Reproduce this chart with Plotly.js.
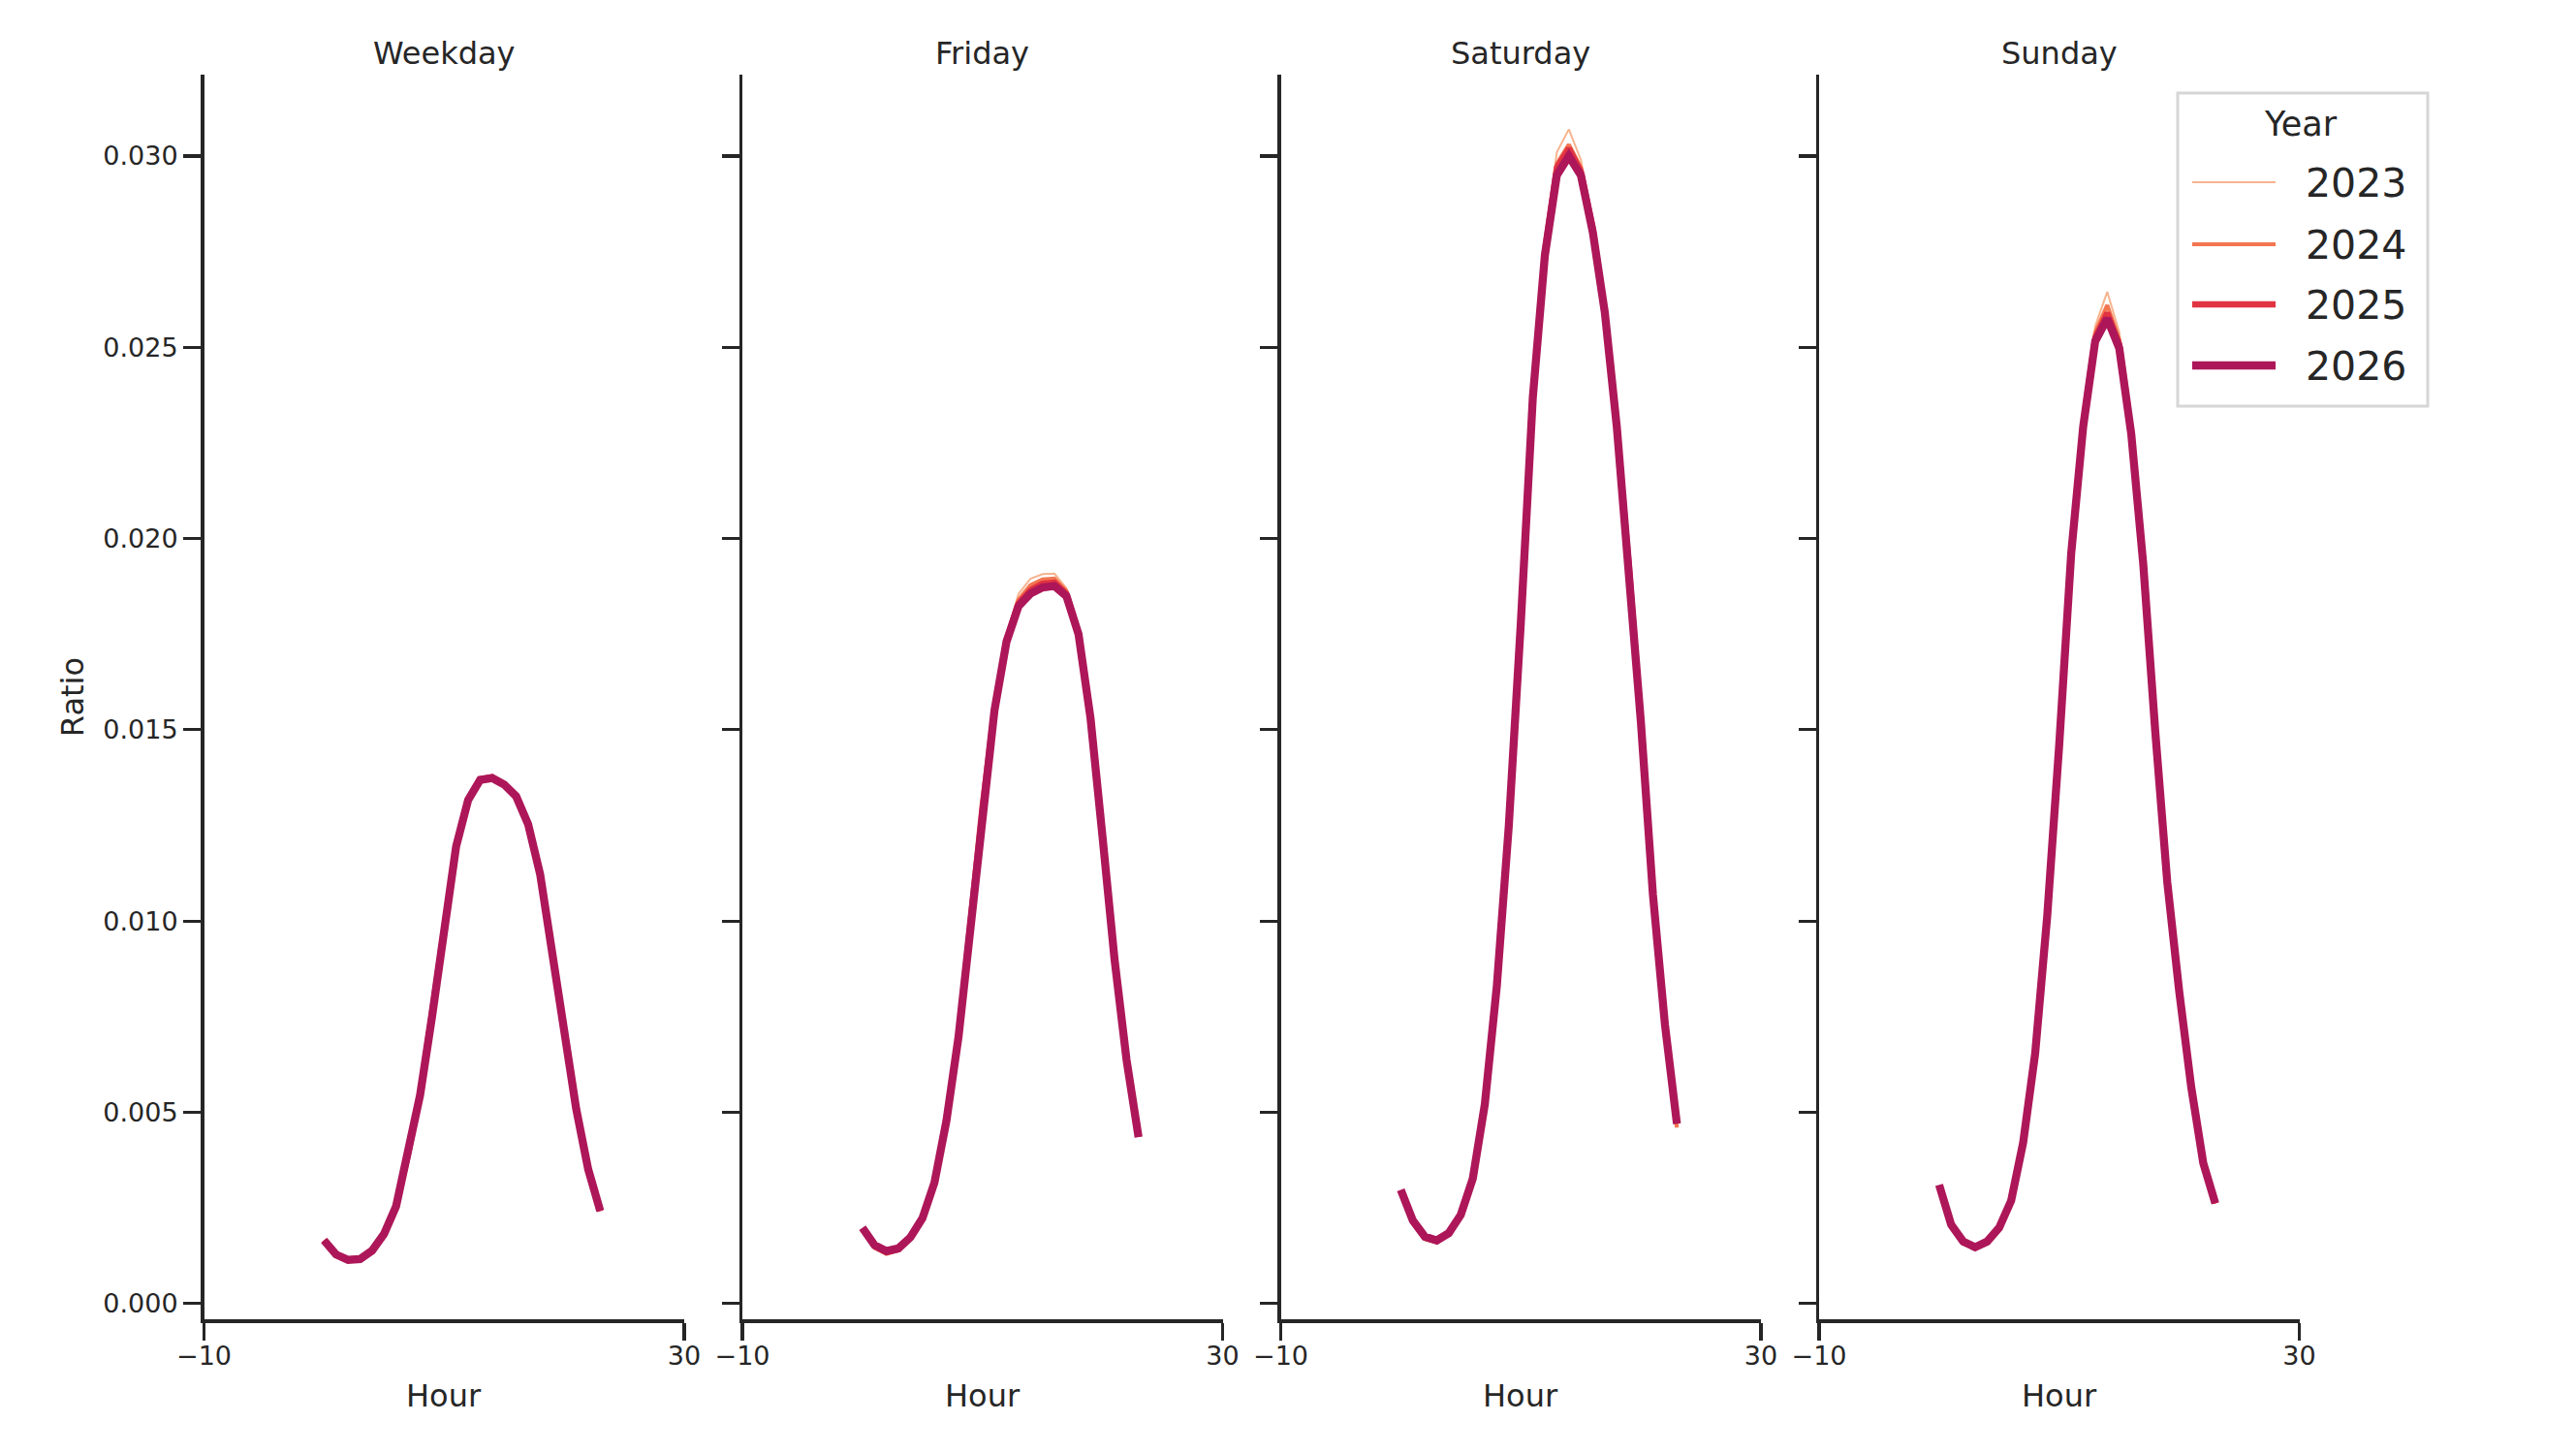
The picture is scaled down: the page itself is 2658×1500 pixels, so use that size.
<!DOCTYPE html>
<html>
<head>
<meta charset="utf-8">
<script src="https://cdn.plot.ly/plotly-3.0.1.min.js"></script>
<style>
  html, body { margin: 0; padding: 0; background: #ffffff; }
  #chart { width: 2658px; height: 1500px; }
</style>
</head>
<body>
<div id="chart"></div>
<script>
// ---------------- DATA ----------------
const hours = [0,1,2,3,4,5,6,7,8,9,10,11,12,13,14,15,16,17,18,19,20,21,22,23];
const panels = ["Weekday", "Friday", "Saturday", "Sunday"];
const years = ["2023", "2024", "2025", "2026"];

const weekday2023 = [0.00163,0.00125,0.00111,0.00114,0.00136,0.00180,0.00252,0.00386,0.00546,0.00754,0.00985,0.01199,0.01320,0.01374,0.01379,0.01360,0.01328,0.01255,0.01124,0.00923,0.00715,0.00509,0.00351,0.00243];
const weekday2024 = [0.00164,0.00126,0.00112,0.00115,0.00137,0.00181,0.00253,0.00387,0.00547,0.00753,0.00983,0.01197,0.01318,0.01372,0.01377,0.01359,0.01327,0.01254,0.01123,0.00922,0.00714,0.00508,0.00350,0.00243];
const weekday2025 = [0.00166,0.00127,0.00113,0.00116,0.00139,0.00183,0.00256,0.00390,0.00546,0.00750,0.00979,0.01193,0.01317,0.01371,0.01376,0.01358,0.01325,0.01251,0.01120,0.00920,0.00716,0.00510,0.00352,0.00241];
const weekday2026 = [0.00165,0.00128,0.00114,0.00116,0.00138,0.00182,0.00254,0.00388,0.00545,0.00751,0.00981,0.01195,0.01316,0.01369,0.01374,0.01357,0.01326,0.01253,0.01122,0.00921,0.00715,0.00509,0.00351,0.00242];

const friday2023 = [0.00192,0.00143,0.00128,0.00137,0.00168,0.00220,0.00313,0.00475,0.00693,0.00992,0.01302,0.01560,0.01748,0.01855,0.01895,0.01907,0.01908,0.01870,0.01758,0.01533,0.01223,0.00903,0.00640,0.00438];
const friday2024 = [0.00194,0.00146,0.00130,0.00139,0.00170,0.00221,0.00314,0.00476,0.00694,0.00993,0.01301,0.01556,0.01740,0.01840,0.01878,0.01893,0.01895,0.01862,0.01755,0.01532,0.01222,0.00902,0.00639,0.00437];
const friday2025 = [0.00196,0.00150,0.00134,0.00142,0.00172,0.00222,0.00315,0.00477,0.00695,0.00993,0.01300,0.01553,0.01735,0.01830,0.01865,0.01882,0.01885,0.01855,0.01752,0.01531,0.01221,0.00901,0.00638,0.00436];
const friday2026 = [0.00198,0.00153,0.00137,0.00144,0.00173,0.00223,0.00316,0.00478,0.00696,0.00994,0.01299,0.01551,0.01730,0.01823,0.01856,0.01872,0.01876,0.01849,0.01750,0.01530,0.01220,0.00900,0.00637,0.00435];

const saturday2023 = [0.00294,0.00208,0.00165,0.00157,0.00179,0.00229,0.00324,0.00518,0.00830,0.01250,0.01790,0.02390,0.02780,0.03010,0.03070,0.02990,0.02820,0.02600,0.02290,0.01930,0.01510,0.01060,0.00720,0.00460];
const saturday2024 = [0.00295,0.00211,0.00169,0.00160,0.00181,0.00230,0.00325,0.00519,0.00830,0.01250,0.01790,0.02380,0.02760,0.02980,0.03030,0.02970,0.02810,0.02600,0.02290,0.01930,0.01520,0.01060,0.00720,0.00460];
const saturday2025 = [0.00296,0.00214,0.00172,0.00163,0.00183,0.00231,0.00326,0.00520,0.00830,0.01250,0.01780,0.02370,0.02750,0.02970,0.03020,0.02960,0.02810,0.02590,0.02290,0.01930,0.01520,0.01070,0.00730,0.00470];
const saturday2026 = [0.00297,0.00217,0.00175,0.00165,0.00184,0.00232,0.00327,0.00521,0.00830,0.01250,0.01780,0.02370,0.02740,0.02950,0.03000,0.02950,0.02800,0.02590,0.02290,0.01930,0.01520,0.01070,0.00730,0.00470];

const sunday2023 = [0.00307,0.00200,0.00154,0.00141,0.00157,0.00195,0.00266,0.00418,0.00652,0.01014,0.01460,0.01968,0.02315,0.02555,0.02645,0.02540,0.02290,0.01940,0.01498,0.01100,0.00812,0.00563,0.00366,0.00261];
const sunday2024 = [0.00308,0.00202,0.00157,0.00144,0.00159,0.00196,0.00267,0.00419,0.00653,0.01013,0.01460,0.01965,0.02305,0.02538,0.02610,0.02520,0.02283,0.01937,0.01497,0.01101,0.00813,0.00564,0.00366,0.00261];
const sunday2025 = [0.00309,0.00204,0.00160,0.00146,0.00161,0.00197,0.00268,0.00420,0.00653,0.01012,0.01460,0.01963,0.02298,0.02525,0.02590,0.02508,0.02278,0.01935,0.01496,0.01101,0.00814,0.00565,0.00367,0.00262];
const sunday2026 = [0.00310,0.00206,0.00162,0.00147,0.00162,0.00198,0.00269,0.00421,0.00654,0.01012,0.01460,0.01961,0.02293,0.02516,0.02575,0.02498,0.02274,0.01934,0.01496,0.01102,0.00815,0.00565,0.00367,0.00262];

const yTickVals = [0, 0.005, 0.010, 0.015, 0.020, 0.025, 0.030];
const yTickText = ["0.000", "0.005", "0.010", "0.015", "0.020", "0.025", "0.030"];
const xTickVals = [-10, 30];
const xTickText = ["\u221210", "30"];

// ---------------- STYLE ----------------
const seriesByPanel = [
  [weekday2023, weekday2024, weekday2025, weekday2026],
  [friday2023, friday2024, friday2025, friday2026],
  [saturday2023, saturday2024, saturday2025, saturday2026],
  [sunday2023, sunday2024, sunday2025, sunday2026]
];
const colors = ["#f6b48f", "#f37651", "#e13342", "#ad1759"];
const widths = [2, 4.2, 6.3, 8.3];
const ink = "#262626";
const FONT = "DejaVu Sans";
const W = 2658, H = 1500;

const panelLeft = [210.5, 766, 1321.5, 1877];
const panelWidth = 495.5;
const plotTop = 77.3, plotBottom = 1361;

const px = v => v / W;
const py = v => 1 - v / H;

const traces = [];
const layout = {
  width: W, height: H,
  margin: {l: 0, r: 0, t: 0, b: 0},
  paper_bgcolor: "#ffffff",
  plot_bgcolor: "#ffffff",
  showlegend: false,
  font: {family: FONT, color: ink},
  shapes: [],
  annotations: []
};

panels.forEach((name, i) => {
  const xa = i === 0 ? "x" : "x" + (i + 1);
  const ya = i === 0 ? "y" : "y" + (i + 1);
  seriesByPanel[i].forEach((vals, k) => {
    traces.push({
      type: "scatter", mode: "lines",
      x: hours, y: vals,
      xaxis: xa, yaxis: ya,
      name: years[k],
      line: {color: colors[k], width: widths[k]},
      hoverinfo: "skip"
    });
  });
  const xKey = i === 0 ? "xaxis" : "xaxis" + (i + 1);
  const yKey = i === 0 ? "yaxis" : "yaxis" + (i + 1);
  layout[xKey] = {
    domain: [px(panelLeft[i]), px(panelLeft[i] + panelWidth)],
    anchor: ya,
    range: [-10, 30],
    tickmode: "array", tickvals: xTickVals, ticktext: xTickText,
    ticks: "outside", ticklen: 18, tickwidth: 3.2, tickcolor: ink,
    ticklabelstandoff: -7,
    showline: true, linecolor: ink, linewidth: 3.5,
    showgrid: false, zeroline: false,
    tickfont: {family: FONT, size: 27, color: ink},
    fixedrange: true
  };
  layout[yKey] = {
    domain: [py(plotBottom), py(plotTop)],
    anchor: xa,
    range: [-0.000413, 0.032121],
    tickmode: "array", tickvals: yTickVals, ticktext: yTickText,
    showticklabels: i === 0,
    ticks: "outside", ticklen: 18, tickwidth: 3.2, tickcolor: ink,
    showline: true, linecolor: ink, linewidth: 3.5,
    showgrid: false, zeroline: false,
    tickfont: {family: FONT, size: 27, color: ink},
    fixedrange: true
  };
  const cx = panelLeft[i] + panelWidth / 2;
  layout.annotations.push({
    text: name, xref: "paper", yref: "paper",
    x: px(cx), y: py(55), xanchor: "center", yanchor: "middle",
    showarrow: false, font: {family: FONT, size: 32, color: ink}
  });
  layout.annotations.push({
    text: "Hour", xref: "paper", yref: "paper",
    x: px(cx), y: py(1440), xanchor: "center", yanchor: "middle",
    showarrow: false, font: {family: FONT, size: 32, color: ink}
  });
});

layout.annotations.push({
  text: "Ratio", xref: "paper", yref: "paper",
  x: px(75), y: py((plotTop + plotBottom) / 2), xanchor: "center", yanchor: "middle",
  textangle: -90, showarrow: false, font: {family: FONT, size: 32, color: ink}
});

// ---------------- LEGEND (drawn) ----------------
const lg = {x0: 2247, x1: 2505, y0: 96, y1: 419};
layout.shapes.push({
  type: "rect", xref: "paper", yref: "paper",
  x0: px(lg.x0), x1: px(lg.x1), y0: py(lg.y1), y1: py(lg.y0),
  line: {color: "#d6d6d6", width: 3}, fillcolor: "rgba(255,255,255,0.85)", layer: "above"
});
layout.annotations.push({
  text: "Year", xref: "paper", yref: "paper",
  x: px(2374), y: py(128), xanchor: "center", yanchor: "middle",
  showarrow: false, font: {family: FONT, size: 35, color: ink}
});
const rowY = [188, 252, 314, 377];
years.forEach((yr, k) => {
  layout.shapes.push({
    type: "line", xref: "paper", yref: "paper",
    x0: px(2262), x1: px(2348), y0: py(rowY[k]), y1: py(rowY[k]),
    line: {color: colors[k], width: widths[k]}, layer: "above"
  });
  layout.annotations.push({
    text: yr, xref: "paper", yref: "paper",
    x: px(2377), y: py(rowY[k] + 1), xanchor: "left", yanchor: "middle",
    showarrow: false, font: {family: FONT, size: 41, color: ink}
  });
});

Plotly.newPlot("chart", traces, layout, {displayModeBar: false, staticPlot: true});
</script>
</body>
</html>
